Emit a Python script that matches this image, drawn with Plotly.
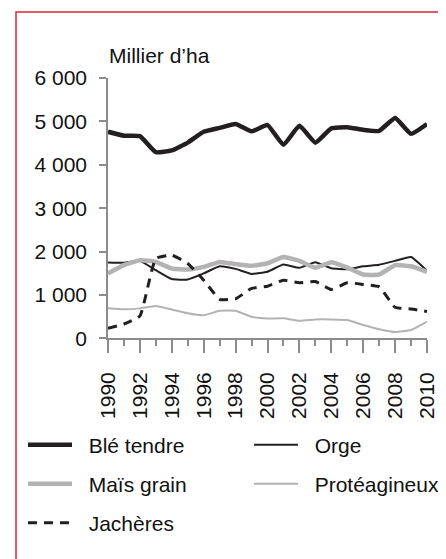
import plotly.graph_objects as go

# Surfaces (milliers d'ha), 1990-2010
years = list(range(1990, 2011))

ble_tendre = [4760, 4670, 4660, 4290, 4330, 4510, 4760, 4850, 4940, 4770, 4915,
              4460, 4900, 4510, 4840, 4865, 4805, 4780, 5080, 4715, 4940]
orge = [1750, 1740, 1785, 1570, 1365, 1355, 1495, 1660, 1600, 1485, 1535,
        1700, 1625, 1755, 1615, 1590, 1660, 1695, 1785, 1875, 1555]
mais_grain = [1495, 1685, 1800, 1760, 1610, 1585, 1645, 1760, 1710, 1670, 1730,
              1875, 1785, 1625, 1755, 1630, 1470, 1470, 1685, 1660, 1530]
proteagineux = [695, 670, 690, 745, 665, 575, 530, 635, 635, 495, 455,
                460, 405, 435, 435, 420, 305, 210, 145, 190, 385]
jacheres = [230, 330, 515, 1840, 1915, 1725, 1340, 900, 910, 1150, 1200,
            1340, 1280, 1310, 1125, 1280, 1240, 1185, 715, 675, 620]

DARK = "#231f20"
GREY = "#b3b3b3"
AXIS = "#8c8c8c"
FONT = "Arial, Liberation Sans, sans-serif"
NB = "\u00a0\u00a0"  # non-breaking spaces used as padding in legend text

# figure size / margins (page adds an 8px body margin)
W, H = 438, 551
L, R, T, B = 60, 19, 70, 171


def px(x):  # figure pixel -> paper x
    return (x - L) / (W - L - R)


def py(y):  # figure pixel -> paper y
    return (H - B - y) / (H - T - B)


xdom = [px(100), 1]
ydom = [py(330.3), 1]

# name, values, colour, width, dash, legend id, legend x px, legend y px, axes
series = [
    ("Blé tendre", ble_tendre, DARK, 4.5, "solid", "legend", 15, 437, ("x", "y")),
    ("Orge", orge, DARK, 2, "solid", "legend2", 241, 437, ("x", "y")),
    ("Maïs grain", mais_grain, GREY, 4.5, "solid", "legend3", 15, 476, ("x", "y")),
    # drawn on the second pair of axes that carry the tick labels (same ranges/domains)
    ("Protéagineux", proteagineux, GREY, 2, "solid", "legend4", 241, 476, ("x2", "y2")),
    ("Jachères", jacheres, DARK, 3, "9px,7px", "legend5", 15, 515, ("x", "y")),
]

fig = go.Figure()
legends = {}
for name, vals, col, w, dash, leg, lx, ly, (xa, ya) in series:
    fig.add_trace(go.Scatter(
        x=years, y=vals, name=NB + name, mode="lines", xaxis=xa, yaxis=ya,
        line=dict(color=col, width=w, dash=dash, shape="spline", smoothing=0.4),
        legend=leg, hovertemplate=name + ": %{y}<extra></extra>",
    ))
    legends[leg] = dict(x=px(lx), y=py(ly), orientation="h", xanchor="left",
                        yanchor="middle", font=dict(family=FONT, size=21, color="#111"),
                        itemwidth=44, bgcolor="rgba(0,0,0,0)")

tickfont = dict(family=FONT, size=21, color="#111")

fig.update_layout(
    width=W, height=H,
    margin=dict(l=L, r=R, t=T, b=B, autoexpand=False),
    paper_bgcolor="white", plot_bgcolor="rgba(0,0,0,0)",
    separators=", ",
    font=dict(family=FONT, size=21, color="#111"),
    showlegend=True,
    **legends,
    # axis lines and ticks
    xaxis=dict(
        domain=xdom, range=[1990, 2010], tickmode="linear", tick0=1990, dtick=2,
        showgrid=False, zeroline=False, showticklabels=False,
        showline=True, linecolor=AXIS, linewidth=1.5,
        ticks="outside", ticklen=13, tickwidth=1.5, tickcolor=AXIS,
        minor=dict(dtick=1, ticks="outside", ticklen=6, tickwidth=1.5,
                   tickcolor=AXIS),
    ),
    yaxis=dict(
        domain=ydom, range=[0, 6000], tickmode="linear", tick0=0, dtick=1000,
        showgrid=False, zeroline=False, showticklabels=False,
        showline=True, linecolor=AXIS, linewidth=1.5,
        ticks="outside", ticklen=7, tickwidth=1.5, tickcolor=AXIS,
    ),
    # tick labels, set a little further away from the axes
    xaxis2=dict(
        domain=xdom, range=[1990, 2010],
        anchor="free", position=py(359),
        tickmode="linear", tick0=1990, dtick=2, tickangle=-90,
        showgrid=False, zeroline=False, showline=False, ticks="",
        tickfont=tickfont,
    ),
    yaxis2=dict(
        domain=ydom, range=[0, 6000],
        anchor="free", position=px(79), side="left",
        tickmode="linear", tick0=0, dtick=1000, tickformat=",d",
        showgrid=False, zeroline=False, showline=False, ticks="",
        tickfont=tickfont,
    ),
    annotations=[dict(
        text="Millier d’ha", xref="paper", yref="paper", x=px(98.5), y=py(48),
        xanchor="left", yanchor="middle", showarrow=False,
        font=dict(family=FONT, size=21, color="#111"),
    )],
    shapes=[dict(
        type="path", xref="paper", yref="paper",
        path=f"M {px(8)},{py(H + 20)} L {px(8)},{py(4)} L {px(W + 20)},{py(4)}",
        line=dict(color="#d9233f", width=1.5), layer="below",
    )],
)

fig.write_html("out.html")
